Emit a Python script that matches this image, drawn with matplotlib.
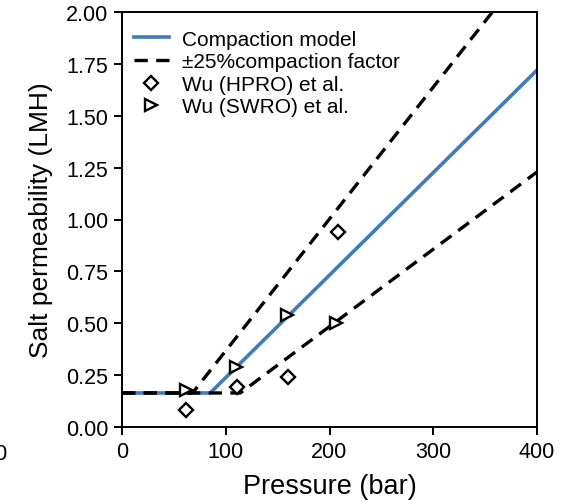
import matplotlib
matplotlib.use("Agg")
import matplotlib.pyplot as plt

plt.rcParams["font.family"] = ["Liberation Sans", "DejaVu Sans"]

# compaction model and +/-25% bounds (pressure in bar, permeability in LMH)
model_p = [0, 85, 400]
model_b = [0.164, 0.164, 1.72]
upper_p = [0, 68, 357]
upper_b = [0.164, 0.164, 2.0]
lower_p = [0, 114, 400]
lower_b = [0.164, 0.164, 1.229]

# Wu et al. data
hpro_p = [62, 111, 160, 208]
hpro_b = [0.083, 0.191, 0.239, 0.938]
swro_p = [62, 110, 159, 206]
swro_b = [0.18, 0.291, 0.540, 0.501]

fig = plt.figure(figsize=(5.71, 5.02), dpi=100)
ax = fig.add_axes([122 / 571, 1 - 428 / 502, 415 / 571, 415 / 502])

ax.plot(model_p, model_b, color="#3b7dbf", lw=2.6, label="Compaction model", zorder=2)
ax.plot(upper_p, upper_b, color="black", lw=2.4, ls=(0, (4, 2.5)), label="\u00b125%compaction factor", zorder=3)
ax.plot(lower_p, lower_b, color="black", lw=2.4, ls=(0, (4, 2.5)), zorder=3)
ax.plot(hpro_p, hpro_b, ls="none", marker="D", ms=7.5, mfc="white", mec="black", mew=1.7,
        label="Wu (HPRO) et al.", zorder=4)
ax.plot(swro_p, swro_b, ls="none", marker=">", ms=8.5, mfc="white", mec="black", mew=1.7,
        label="Wu (SWRO) et al.", zorder=4)

ax.set_xlim(0, 400)
ax.set_ylim(0, 2.0)
ax.set_xticks([0, 100, 200, 300, 400])
ax.set_yticks([0, 0.25, 0.5, 0.75, 1.0, 1.25, 1.5, 1.75, 2.0])
ax.set_yticklabels([f"{v:.2f}" for v in ax.get_yticks()])
ax.tick_params(labelsize=15.5, width=1.4, length=6, pad=4)
for s in ax.spines.values():
    s.set_linewidth(1.4)
ax.set_xlabel("Pressure (bar)", fontsize=19.5, labelpad=8)
ax.set_ylabel("Salt permeability (LMH)", fontsize=19, labelpad=9)

ax.legend(loc="upper left", bbox_to_anchor=(-6 / 415, 1.0), frameon=False, fontsize=15,
          handlelength=1.7, handletextpad=0.6, borderaxespad=0.2, borderpad=0.65,
          labelspacing=0.17)

# cut-off tick label of the neighbouring panel
fig.text(-10 / 571, 1 - 455 / 502, "400", fontsize=15.5, ha="center", va="center")

fig.savefig("out.png", dpi=100)
